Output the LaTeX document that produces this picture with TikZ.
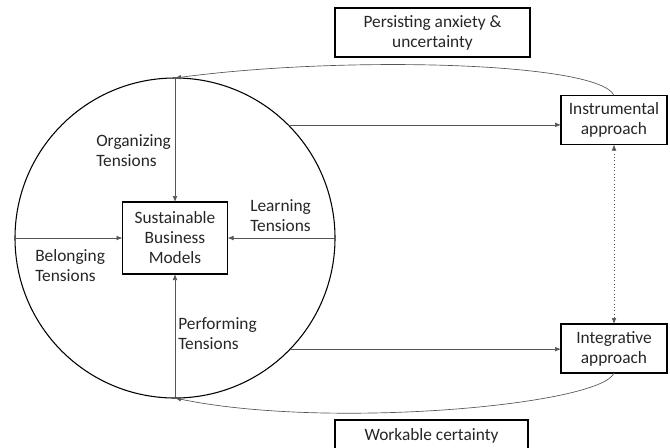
\documentclass[tikz,border=0pt]{standalone}
\usepackage{fontspec}
\setmainfont{Carlito}
\usetikzlibrary{arrows.meta}
\definecolor{txtgrey}{HTML}{262626}
\definecolor{linegrey}{HTML}{555555}
\begin{document}
\begin{tikzpicture}[x = 0.75pt, y = -0.75pt,
        every node/.style = {font = \fontsize{13}{15}\selectfont, text = txtgrey},
        box/.style = {draw = black, line width = 0.8pt, align = center, inner sep = 0pt, outer sep = 0pt},
        label/.style = {align = left, anchor = west, inner sep = 0pt},
        conn/.style = {draw = linegrey, line width = 0.5pt, -{Latex[length = 4.5pt, width = 3.5pt]}}]
            \useasboundingbox (0, 0) rectangle (670, 447);
            \node [draw = black, line width = 0.8pt, circle, minimum size = 240pt, inner sep = 0pt, outer sep = 0pt] (cyc) at (175, 238) {};
            \node [box, minimum width = 78.75pt, minimum height = 54pt] (sbm) at (175, 238) {Sustainable\\Business\\Models};
            \node [box, minimum width = 79.5pt, minimum height = 36.75pt] (instr) at (614, 120) {Instrumental\\approach};
            \node [box, minimum width = 79.5pt, minimum height = 36.75pt] (integ) at (614, 348.5) {Integrative\\approach};
            \node [box, minimum width = 146.25pt, minimum height = 36.75pt] (anx) at (432.5, 32.5) {Persisting anxiety \&\\uncertainty};
            \node [box, minimum width = 144.75pt, minimum height = 24pt] (work) at (431.5, 436) {Workable certainty};
            \node [label] (org) at (96, 150.5) {Organizing\\Tensions};
            \node [label] (lrn) at (250, 215.5) {Learning\\Tensions};
            \node [label] (bel) at (35, 266) {Belonging\\Tensions};
            \node [label] (perf) at (178, 334) {Performing\\Tensions};
            % tensions into the centre
            \draw [conn] (cyc.north) -- (sbm.north);
            \draw [conn] (cyc.south) -- (sbm.south);
            \draw [conn] (cyc.west) -- (sbm.west);
            \draw [conn] (cyc.east) -- (sbm.east);
            % approaches
            \draw [conn] (cyc.45) -- (cyc.45 -| instr.west);
            \draw [conn] (cyc.-44) -- (cyc.-44 -| integ.west);
            \draw [conn, dotted, {Latex[length = 4.5pt, width = 3.5pt]}-{Latex[length = 4.5pt, width = 3.5pt]}] (instr.south) -- (integ.north);
            % feedback loops
            \draw [conn] (instr.north) .. controls +(-14, -33) and +(173, -23) .. (cyc.north);
            \draw [conn] (integ.south) .. controls +(-13, 32) and +(153, 32) .. (cyc.south);
        \end{tikzpicture}
\end{document}
